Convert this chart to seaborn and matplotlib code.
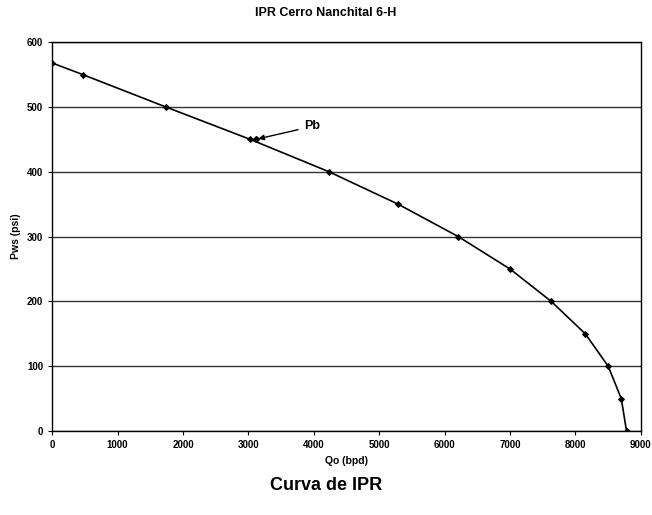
import matplotlib
matplotlib.use("Agg")
import matplotlib.pyplot as plt
import seaborn as sns
import pandas as pd

# IPR data
qo_bpd = [0, 470, 1740, 3030, 4235, 5290, 6210, 7000, 7630, 8150, 8500, 8700, 8780]
pws_psi = [568, 550, 500, 450, 400, 350, 300, 250, 200, 150, 100, 50, 0]

# bubble point marker
pb_q = 3110
pb_p = 450

df = pd.DataFrame({"Qo": qo_bpd, "Pws": pws_psi})

sns.set_theme(style="white", rc={"text.color": "black", "axes.labelcolor": "black",
                                 "xtick.color": "black", "ytick.color": "black"})
plt.rcParams['font.family'] = ['Liberation Sans', 'DejaVu Sans']

fig = plt.figure(figsize=(6.52, 5.15), dpi=100)
ax = fig.add_axes([0.08, 0.163, 0.903, 0.755])

sns.lineplot(data=df, x="Qo", y="Pws", ax=ax, color="black", linewidth=1.2,
             marker="D", markersize=3, markeredgecolor="black", sort=False)
ax.plot([pb_q], [pb_p], marker="D", markersize=3, color="black")

ax.annotate("Pb", xy=(pb_q, pb_p), xytext=(3850, 470), fontsize=9, fontweight="bold",
            arrowprops=dict(arrowstyle="-|>", color="black", lw=1, mutation_scale=8),
            va="center")

ax.set_xlim(0, 9000)
ax.set_ylim(0, 600)
ax.set_xticks(range(0, 9001, 1000))
ax.set_yticks(range(0, 601, 100))
ax.yaxis.grid(True, color="#333333", linewidth=1)
ax.set_axisbelow(True)
for s in ax.spines.values():
    s.set_color("black")
    s.set_linewidth(1)
ax.tick_params(axis="both", labelsize=7, direction="out", length=3, color="black", width=0.8)
ax.tick_params(axis="y", left=True)
ax.tick_params(axis="x", bottom=True)
for lbl in ax.get_xticklabels() + ax.get_yticklabels():
    lbl.set_fontweight("bold")

ax.set_xlabel("Qo (bpd)", fontsize=7.5, fontweight="bold", labelpad=4)
ax.set_ylabel("Pws (psi)", fontsize=7.5, fontweight="bold", labelpad=4)

fig.text(0.5, 0.975, "IPR Cerro Nanchital 6-H", ha="center", va="center",
         fontsize=9, fontweight="bold")
fig.text(0.5, 0.058, "Curva de IPR", ha="center", va="center",
         fontsize=13, fontweight="bold")

fig.savefig("out.png", dpi=100)
